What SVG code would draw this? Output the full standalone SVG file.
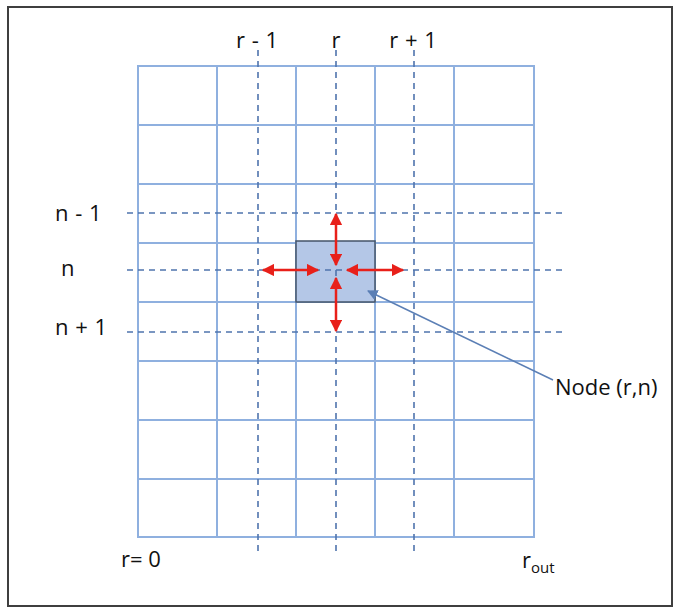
<svg xmlns="http://www.w3.org/2000/svg" width="673" height="608" viewBox="0 0 673 608">
<style>
.grid{stroke:#8fb0df;stroke-width:2;fill:none}
.dash{stroke:#4f74ad;stroke-width:1.6;stroke-dasharray:6,5;fill:none}
.red{stroke:#e8201a;stroke-width:2.5;fill:none;marker-start:url(#ra);marker-end:url(#ra)}
.lbl{font-family:"Open Sans","Liberation Sans",sans-serif;font-size:22px;fill:#111}
</style>
<defs>
<marker id="ra" viewBox="0 0 10 10" refX="9" refY="5" markerWidth="5" markerHeight="5" orient="auto-start-reverse" markerUnits="strokeWidth">
<path d="M0,0 L10,5 L0,10 z" fill="#e8201a"/>
</marker>
<marker id="ba" viewBox="0 0 10 10" refX="9" refY="5" markerWidth="7" markerHeight="7" orient="auto-start-reverse" markerUnits="strokeWidth">
<path d="M0,0 L10,5 L0,10 z" fill="#5b7fb5"/>
</marker>
</defs>
<rect x="0" y="0" width="673" height="608" fill="#fff"/>
<rect x="8" y="7" width="664" height="599" fill="none" stroke="#3f3f3f" stroke-width="2"/>
<g id="grid">
<rect class="grid" x="138" y="66" width="396" height="471"/>
<path class="grid" d="M217,66V537M296,66V537M375,66V537M454,66V537M138,125H534M138,184H534M138,243H534M138,302H534M138,361H534M138,420H534M138,479H534"/>
</g>
<g id="node-rn">
<rect x="296" y="241" width="79" height="61" fill="#b4c7e7" stroke="#44546a" stroke-width="1.5"/>
</g>
<g id="dashes">
<path class="dash" d="M258,50V552M336,50V552M414,50V552M127,213H562M127,270H562M127,332H562"/>
</g>
<g id="connectors">
<line class="red" x1="336" y1="265" x2="336" y2="214"/>
<line class="red" x1="336" y1="278" x2="336" y2="331"/>
<line class="red" x1="318" y1="270" x2="263" y2="270"/>
<line class="red" x1="347" y1="270" x2="403" y2="270"/>
<line x1="553" y1="380" x2="368" y2="291" stroke="#5b7fb5" stroke-width="1.5" marker-end="url(#ba)"/>
</g>
<g id="labels">
<text class="lbl" x="257" y="48" text-anchor="middle" word-spacing="1">r - 1</text>
<text class="lbl" x="336" y="48" text-anchor="middle">r</text>
<text class="lbl" x="413" y="48" text-anchor="middle" word-spacing="1">r + 1</text>
<text class="lbl" x="55" y="221" word-spacing="1">n - 1</text>
<text class="lbl" x="61" y="276">n</text>
<text class="lbl" x="55" y="335" word-spacing="1">n + 1</text>
<text class="lbl" x="555" y="395">Node (r,n)</text>
<text class="lbl" x="121" y="567">r= 0</text>
<text class="lbl" x="522" y="568">r<tspan font-size="15" dy="5">out</tspan></text>
</g>
</svg>
